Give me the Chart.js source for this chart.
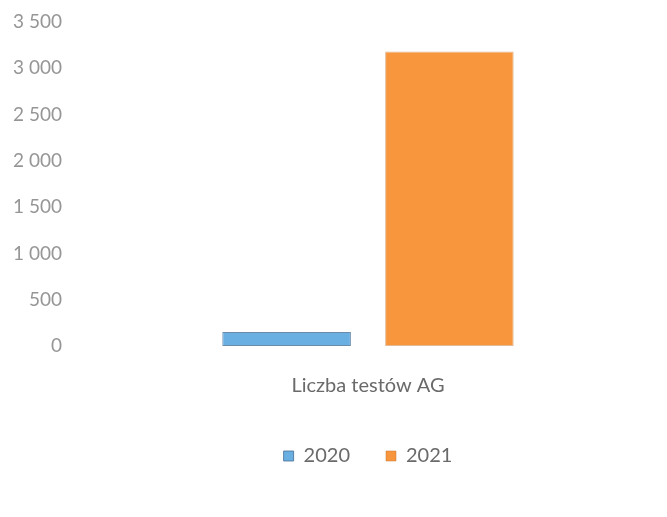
<!DOCTYPE html>
<html>
<head>
<meta charset="utf-8">
<script src="https://cdn.jsdelivr.net/npm/chart.js@4/dist/chart.umd.min.js"></script>
<style>
html,body{margin:0;padding:0;background:#fff;}
#wrap{width:667px;height:517px;position:relative;}
</style>
</head>
<body>
<div id="wrap"><canvas id="c" width="667" height="517"></canvas></div>
<script>
const categories = ['Liczba testów AG'];
const seriesNames = ['2020', '2021'];
const values2020 = [150];
const values2021 = [3180];
const yTickValues = [0, 500, 1000, 1500, 2000, 2500, 3000, 3500];
const yTickLabels = ['0', '500', '1 000', '1 500', '2 000', '2 500', '3 000', '3 500'];

const FONT = 'Lato, "Open Sans", sans-serif';

new Chart(document.getElementById('c'), {
  type: 'bar',
  data: {
    labels: categories,
    datasets: [
      { label: seriesNames[0], data: values2020, backgroundColor: '#6aafe2', borderColor: 'rgba(70,110,150,0.8)', borderWidth: 1, borderSkipped: false },
      { label: seriesNames[1], data: values2021, backgroundColor: '#f7963c', borderColor: 'rgba(200,120,50,0.5)', borderWidth: 1, borderSkipped: false }
    ]
  },
  options: {
    responsive: false,
    animation: false,
    devicePixelRatio: 1,
    layout: { padding: { top: 22, right: 3, bottom: 41, left: 0 } },
    datasets: { bar: { categoryPercentage: 0.55, barPercentage: 0.79 } },
    plugins: {
      legend: {
        position: 'bottom',
        fullSize: false,
        labels: {
          boxWidth: 10, boxHeight: 10, padding: 36,
          color: '#6a6a6a',
          font: { family: FONT, size: 20 }
        }
      },
      tooltip: { enabled: false }
    },
    scales: {
      x: {
        grid: { display: false, drawTicks: false },
        border: { display: false },
        ticks: { color: '#6a6a6a', padding: 28, font: { family: FONT, size: 20 } },
        afterFit: s => { s.height = 64; }
      },
      y: {
        min: 0, max: 3500,
        grid: { display: false, drawTicks: false },
        border: { display: false },
        afterBuildTicks: s => { s.ticks = yTickValues.map(v => ({ value: v })); },
        ticks: {
          color: '#969696', padding: 10,
          font: { family: FONT, size: 19 },
          callback: (v) => yTickLabels[yTickValues.indexOf(v)]
        },
        afterFit: s => { s.width = 72; }
      }
    }
  }
});
</script>
</body>
</html>
